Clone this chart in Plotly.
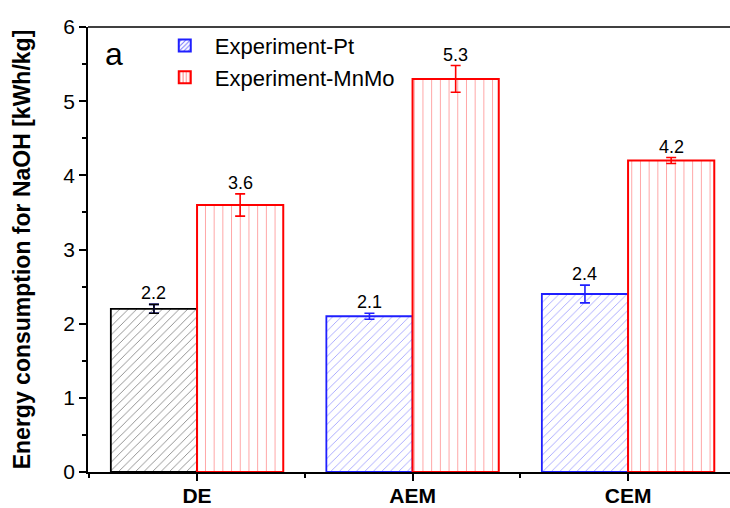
import plotly.graph_objects as go

categories = ["DE", "AEM", "CEM"]
x_pos = [0, 1, 2]
pt_values = [2.2, 2.1, 2.4]
pt_errors = [0.06, 0.04, 0.12]
mnmo_values = [3.6, 5.3, 4.2]
mnmo_errors = [0.15, 0.18, 0.04]
pt_line_colors = ["#000000", "#1f1fff", "#1f1fff"]
pt_hatch_colors = ["#6a6a6a", "#8c8cff", "#8c8cff"]

FONT = "Arial, Liberation Sans, sans-serif"

fig = go.Figure()

fig.add_trace(go.Bar(
    x=x_pos, y=pt_values, name="Experiment-Pt", showlegend=False,
    marker=dict(color="white", line=dict(color=pt_line_colors, width=1.8),
                pattern=dict(shape="/", fgcolor=pt_hatch_colors, bgcolor="white",
                             size=6, solidity=0.12, fillmode="replace")),
    error_y=dict(type="data", array=pt_errors, color="#1f1fff", thickness=1.6, width=5),
    offsetgroup="pt",
))
fig.add_trace(go.Bar(
    x=x_pos, y=mnmo_values, name="Experiment-MnMo", showlegend=False,
    marker=dict(color="white", line=dict(color="#ff0000", width=2),
                pattern=dict(shape="|", fgcolor="#ff9a9a", bgcolor="white",
                             size=8.7, solidity=0.1, fillmode="replace")),
    error_y=dict(type="data", array=mnmo_errors, color="#ff0000", thickness=1.6, width=5),
    offsetgroup="mnmo",
))
# black error bar for DE Pt bar drawn over the blue one
fig.add_trace(go.Scatter(
    x=[x_pos[0] - 0.2], y=[pt_values[0]], mode="markers", showlegend=False,
    marker=dict(size=0.1, color="rgba(0,0,0,0)"),
    error_y=dict(type="data", array=[pt_errors[0]], color="#000000", thickness=1.6, width=5),
    hoverinfo="skip",
))
# legend-only traces
fig.add_trace(go.Bar(
    x=[None], y=[None], name="Experiment-Pt",
    marker=dict(color="white", line=dict(color="#1f1fff", width=2),
                pattern=dict(shape="/", fgcolor="#7070ff", bgcolor="white", size=4,
                             solidity=0.3, fillmode="replace")),
))
fig.add_trace(go.Bar(
    x=[None], y=[None], name="Experiment-MnMo",
    marker=dict(color="white", line=dict(color="#ff0000", width=2),
                pattern=dict(shape="|", fgcolor="#ff8080", bgcolor="white", size=4,
                             solidity=0.3, fillmode="replace")),
))

annotations = []
for i in range(len(categories)):
    annotations.append(dict(x=x_pos[i] - 0.2, y=pt_values[i] + pt_errors[i], text=f"{pt_values[i]:.1f}",
                            showarrow=False, yanchor="bottom", yshift=-1,
                            font=dict(size=18, color="black", family=FONT)))
    annotations.append(dict(x=x_pos[i] + 0.2, y=mnmo_values[i] + mnmo_errors[i], text=f"{mnmo_values[i]:.1f}",
                            showarrow=False, yanchor="bottom", yshift=-1,
                            font=dict(size=18, color="black", family=FONT)))
annotations.append(dict(x=0.024, y=0.94, xref="paper", yref="paper", text="a", showarrow=False,
                        xanchor="left", yanchor="middle", font=dict(size=32, color="black", family=FONT)))

fig.update_layout(
    width=730, height=508,
    margin=dict(l=88, r=0, t=27, b=36),
    paper_bgcolor="white", plot_bgcolor="white",
    barmode="group", bargap=0.2, bargroupgap=0,
    font=dict(family=FONT, color="black"),
    annotations=annotations,
    legend=dict(x=0.104, y=1.005, xanchor="left", yanchor="top", bgcolor="rgba(0,0,0,0)",
                font=dict(size=22, family=FONT, color="black"), tracegroupgap=0,
                itemsizing="constant", itemwidth=50),
    shapes=[dict(type="line", xref="paper", yref="paper", x0=0, x1=1, y0=1, y1=1,
                 line=dict(color="black", width=1.6))],
    showlegend=True,
)
fig.update_xaxes(
    range=[-0.506, 2.473], tickvals=x_pos, ticktext=[f"<b>{c}</b>" for c in categories],
    ticks="outside", ticklen=7, tickwidth=1.5, tickcolor="black", automargin=False,
    ticklabelstandoff=-3,
    showline=True, linecolor="black", linewidth=1.6, showgrid=False, zeroline=False,
    tickfont=dict(size=21, family=FONT, color="black"),
    minor=dict(tickvals=[-0.5, 0.5, 1.5], ticks="outside", ticklen=4, tickwidth=1.5, tickcolor="black"),
)
fig.update_yaxes(
    range=[0, 6], dtick=1, ticks="outside", ticklen=7, tickwidth=1.5, tickcolor="black", automargin=False,
    showline=True, linecolor="black", linewidth=1.6, showgrid=False, zeroline=False,
    tickfont=dict(size=21, family=FONT, color="black"),
    minor=dict(dtick=0.5, ticks="outside", ticklen=4, tickwidth=1.5, tickcolor="black"),
    title=dict(text="<b>Energy consumption for NaOH [kWh/kg]</b>", standoff=26,
               font=dict(size=23, family=FONT, color="black")),
)

fig.write_html("out.html")
